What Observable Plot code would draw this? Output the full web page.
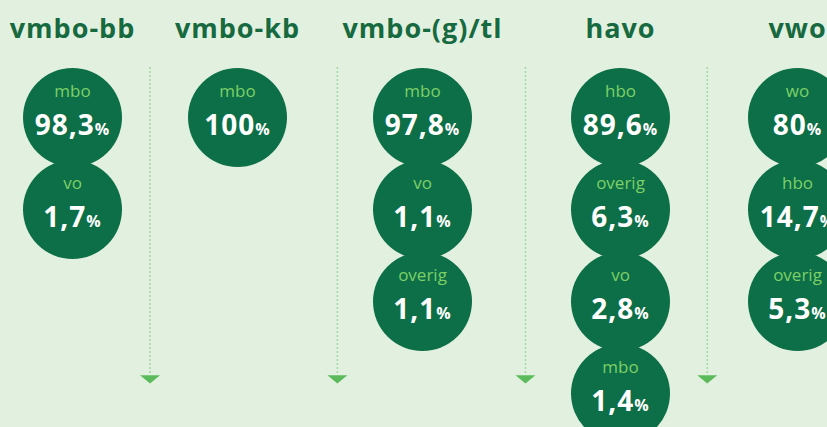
<!DOCTYPE html>
<html><head><meta charset="utf-8">
<script src="https://cdn.jsdelivr.net/npm/d3@7"></script>
<script src="https://cdn.jsdelivr.net/npm/@observablehq/plot@0.6"></script>
<style>
html,body{margin:0;padding:0;background:#e2f1df;overflow:hidden;}
#chart{width:827px;height:427px;overflow:hidden;}
</style></head><body><div id="chart"></div>
<script>
const groups = ["vmbo-bb", "vmbo-kb", "vmbo-(g)/tl", "havo", "vwo"];
const labels = [["mbo", "vo"], ["mbo"], ["mbo", "vo", "overig"], ["hbo", "overig", "vo", "mbo"], ["wo", "hbo", "overig"]];
const values = [[98.3, 1.7], [100], [97.8, 1.1, 1.1], [89.6, 6.3, 2.8, 1.4], [80, 14.7, 5.3]];
const dividers = [0.47, 1.54, 2.52, 3.49];

const rows = groups.flatMap((g, i) => labels[i].map((l, j) => ({col: i, rank: j, group: g, label: l, value: values[i][j]})));
const heads = groups.map((g, i) => ({col: i, group: g}));
const fmt = v => String(v).replace(".", ",") + "%";

// uneven column spacing (columns are spaced by their title widths)
const warp = d3.scaleLinear().domain([0, 1, 2, 3, 4]).range([0, 165, 350, 548, 725]);

const downTri = {
  draw(ctx, size) {
    const s = Math.sqrt(size / Math.PI);
    ctx.moveTo(-s * 1.25, -s * 0.45);
    ctx.lineTo(s * 1.25, -s * 0.45);
    ctx.lineTo(0, s * 0.6);
    ctx.closePath();
  }
};

const plot = Plot.plot({
  width: 827, height: 427,
  margin: 0,
  style: {background: "transparent", fontFamily: "'Open Sans', sans-serif", overflow: "hidden"},
  x: {domain: [0, 725], range: [72, 797], transform: warp, axis: null},
  y: {domain: [-1, 3], range: [25, 393], axis: null},
  marks: [
    Plot.ruleX(dividers, {x: d => d, y1: -0.54, y2: 2.78, stroke: "#8fcf8a", strokeWidth: 1.5, strokeDasharray: "1.5,2.5"}),
    Plot.dot(dividers, {x: d => d, y: 2.84, symbol: downTri, r: 8, fill: "#5bbb5b", stroke: "none"}),
    Plot.dot(rows, {x: "col", y: "rank", r: 49.5, fill: "#0c6f47", stroke: "none"}),
    Plot.text(rows, {x: "col", y: "rank", text: "label", dy: -26, fill: "#7dcf66", fontSize: 17}),
    Plot.text(rows, {x: "col", y: "rank", text: d => fmt(d.value), dy: 9, fill: "white", fontSize: 28, fontWeight: "bold"}),
    Plot.text(heads, {x: "col", y: -1, text: "group", dy: 4, fill: "#17693f", fontSize: 27, fontWeight: "bold"})
  ]
});

d3.select(plot).selectAll("text").each(function() {
  const t = this.textContent;
  if (t.endsWith("%")) {
    this.textContent = t.slice(0, -1);
    d3.select(this).style("letter-spacing", "1px");
    d3.select(this).append("tspan").attr("font-size", 16).text("%");
  }
});
d3.select(plot).selectAll("text").filter(function() { return groups.includes(this.textContent); })
  .style("letter-spacing", "1px");

document.getElementById("chart").appendChild(plot);
</script>
</body></html>
